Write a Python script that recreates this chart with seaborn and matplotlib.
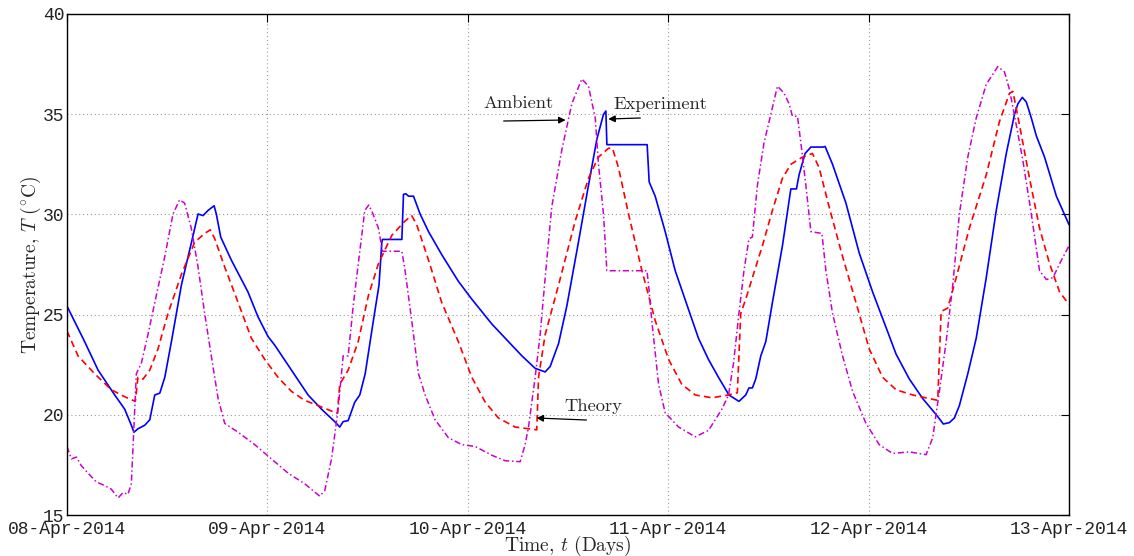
import numpy as np
import pandas as pd
import matplotlib
matplotlib.use("Agg")
import matplotlib.pyplot as plt
import matplotlib.dates as mdates
import seaborn as sns

# time in days after 08-Apr-2014 00:00, temperatures in deg C
exp_day = [0, .088, .155, .238, .288, .321, .334, .354, .388, .413, .438, .463, .488, .521, .571,
           .621, .654, .679, .704, .734, .745, .767, .820, .903, .953, 1.003, 1.037, 1.12, 1.203,
           1.27, 1.336, 1.361, 1.378, 1.403, 1.436, 1.461, 1.488, 1.529, 1.557, 1.571, 1.574,
           1.671, 1.679, 1.691, 1.704, 1.729, 1.762, 1.804, 1.870, 1.953, 2.02, 2.12, 2.203, 2.27,
           2.336, 2.386, 2.411, 2.453, 2.494, 2.552, 2.602, 2.644, 2.677, 2.689, 2.694, 2.895,
           2.905, 2.935, 2.985, 3.035, 3.102, 3.151, 3.201, 3.251, 3.303, 3.353, 3.387, 3.403,
           3.42, 3.437, 3.462, 3.487, 3.52, 3.57, 3.612, 3.64, 3.653, 3.683, 3.712, 3.773, 3.783,
           3.82, 3.887, 3.953, 4.02, 4.087, 4.137, 4.203, 4.27, 4.337, 4.373, 4.403, 4.428, 4.453,
           4.495, 4.537, 4.587, 4.637, 4.687, 4.728, 4.745, 4.767, 4.787, 4.812, 4.837, 4.878,
           4.937, 5.0]
exp_temp = [25.42, 23.65, 22.23, 20.99, 20.28, 19.48, 19.13, 19.3, 19.48, 19.75, 20.99, 21.08,
            21.87, 23.65, 26.48, 28.6, 30.02, 29.94, 30.2, 30.43, 30.02, 28.87, 27.72, 26.13,
            24.89, 23.91, 23.47, 22.23, 20.99, 20.28, 19.66, 19.39, 19.66, 19.71, 20.63, 20.99,
            22.05, 24.71, 26.48, 28.61, 28.75, 28.75, 31.0, 31.03, 30.91, 30.91, 30.02, 29.14,
            27.99, 26.66, 25.77, 24.53, 23.65, 22.94, 22.32, 22.14, 22.41, 23.56, 25.42, 28.61,
            31.44, 33.75, 34.99, 35.16, 33.48, 33.48, 31.62, 30.91, 29.14, 27.19, 25.24, 23.82,
            22.76, 21.87, 20.99, 20.67, 20.99, 21.34, 21.34, 21.79, 22.94, 23.65, 25.6, 28.43,
            31.27, 31.27, 31.97, 33.04, 33.36, 33.36, 33.39, 32.5, 30.56, 28.08, 26.13, 24.36,
            23.03, 21.79, 20.81, 20.01, 19.54, 19.61, 19.84, 20.46, 22.05, 23.82, 26.84, 30.2,
            33.04, 34.99, 35.52, 35.84, 35.61, 34.81, 33.92, 32.86, 30.91, 29.49]

thy_day = [0, .055, .138, .221, .288, .341, .354, .379, .413, .454, .504, .571, .637, .687, .715,
           .737, .787, .854, .92, .987, 1.053, 1.12, 1.186, 1.253, 1.319, 1.349, 1.361, 1.403,
           1.453, 1.504, 1.554, 1.621, 1.687, 1.72, 1.745, 1.804, 1.87, 1.953, 2.02, 2.087, 2.153,
           2.236, 2.344, 2.353, 2.386, 2.453, 2.536, 2.602, 2.652, 2.702, 2.722, 2.752, 2.802,
           2.869, 2.935, 3.002, 3.068, 3.135, 3.218, 3.285, 3.345, 3.362, 3.387, 3.42, 3.47, 3.52,
           3.57, 3.612, 3.67, 3.72, 3.753, 3.803, 3.87, 3.937, 4.003, 4.07, 4.137, 4.22, 4.303,
           4.345, 4.362, 4.395, 4.437, 4.503, 4.587, 4.653, 4.703, 4.72, 4.753, 4.803, 4.853,
           4.903, 4.953, 5.0]
thy_temp = [24.18, 22.94, 22.05, 21.25, 20.9, 20.67, 21.87, 21.78, 22.23, 23.29, 25.06, 27.01,
            28.61, 29.05, 29.23, 28.79, 27.37, 25.6, 23.82, 22.76, 21.87, 21.17, 20.72, 20.46,
            20.19, 20.07, 21.52, 22.23, 23.65, 25.95, 27.54, 28.96, 29.67, 29.94, 29.49, 27.72,
            25.6, 23.65, 21.87, 20.63, 19.84, 19.39, 19.25, 21.87, 24.0, 26.48, 29.67, 31.8,
            32.86, 33.3, 33.3, 32.33, 30.02, 27.19, 24.71, 22.76, 21.52, 20.99, 20.85, 20.96,
            21.1, 25.06, 25.77, 26.84, 28.43, 30.2, 31.8, 32.5, 32.86, 33.04, 32.33, 30.38, 27.9,
            25.6, 23.29, 21.87, 21.25, 20.99, 20.81, 20.72, 25.15, 25.33, 26.84, 29.32, 31.97,
            34.63, 36.04, 36.14, 34.46, 31.8, 29.32, 27.54, 26.13, 25.51]

amb_day = [0, .022, .047, .072, .105, .146, .188, .221, .255, .28, .304, .321, .338, .346, .371,
           .404, .438, .488, .529, .562, .587, .62, .654, .687, .72, .754, .787, .854, .937, 1.02,
           1.103, 1.186, 1.261, 1.286, 1.32, 1.353, 1.378, 1.403, 1.428, 1.453, 1.486, 1.506,
           1.527, 1.554, 1.574, 1.671, 1.687, 1.72, 1.754, 1.787, 1.837, 1.903, 1.97, 2.037, 2.12,
           2.186, 2.261, 2.286, 2.303, 2.336, 2.361, 2.386, 2.419, 2.469, 2.519, 2.569, 2.602,
           2.636, 2.652, 2.677, 2.694, 2.894, 2.902, 2.918, 2.952, 2.985, 3.052, 3.135, 3.201,
           3.268, 3.301, 3.326, 3.353, 3.378, 3.403, 3.42, 3.445, 3.478, 3.512, 3.545, 3.578,
           3.603, 3.62, 3.645, 3.662, 3.687, 3.712, 3.767, 3.787, 3.82, 3.87, 3.92, 3.987, 4.053,
           4.12, 4.203, 4.287, 4.32, 4.353, 4.387, 4.42, 4.453, 4.495, 4.537, 4.587, 4.645, 4.678,
           4.703, 4.737, 4.77, 4.812, 4.853, 4.887, 4.92, 4.953, 5.0]
amb_temp = [18.42, 17.8, 17.89, 17.45, 17.09, 16.65, 16.47, 16.29, 15.85, 16.12, 16.03, 16.56,
            20.28, 22.05, 22.58, 24.0, 25.6, 27.9, 30.02, 30.73, 30.56, 29.32, 27.37, 25.06,
            22.94, 20.81, 19.57, 19.13, 18.51, 17.8, 17.09, 16.56, 15.94, 16.21, 17.8, 20.28,
            22.94, 22.94, 25.42, 27.5, 30.2, 30.47, 30.02, 29.32, 28.16, 28.16, 27.19, 24.71,
            22.05, 20.99, 19.75, 18.86, 18.51, 18.42, 17.98, 17.71, 17.66, 18.51, 19.39, 21.87,
            24.0, 26.84, 30.38, 33.21, 35.52, 36.76, 36.4, 34.81, 32.51, 30.02, 27.19, 27.19,
            26.48, 24.71, 21.52, 20.1, 19.39, 18.9, 19.22, 20.28, 20.99, 22.58, 25.06, 27.19,
            28.78, 28.87, 31.44, 33.57, 34.99, 36.4, 36.05, 35.52, 34.9, 34.9, 33.57, 31.44,
            29.14, 29.05, 27.19, 25.06, 22.94, 21.17, 19.57, 18.51, 18.07, 18.15, 18.01, 18.86,
            21.17, 23.65, 26.48, 30.02, 32.86, 34.81, 36.49, 37.38, 37.11, 36.23, 34.46, 32.68,
            30.02, 27.19, 26.75, 26.84, 27.54, 28.43]

start = pd.Timestamp("2014-04-08")

def frame(days, temps):
    return pd.DataFrame({"time": start + pd.to_timedelta(days, unit="D"), "T": temps})

sns.set_style("white")
plt.rcParams["mathtext.fontset"] = "cm"

fig = plt.figure(figsize=(11.34, 5.56), dpi=100)
ax = fig.add_axes([67 / 1134, 1 - 515 / 556, 1002 / 1134, 501 / 556])

sns.lineplot(data=frame(exp_day, exp_temp), x="time", y="T", ax=ax,
             color="#0000ff", lw=1.2)
sns.lineplot(data=frame(thy_day, thy_temp), x="time", y="T", ax=ax,
             color="#ff0000", lw=1.2, linestyle=(0, (4, 2.5)))
sns.lineplot(data=frame(amb_day, amb_temp), x="time", y="T", ax=ax,
             color="#cc00cc", lw=1.1, linestyle=(0, (4, 1.8, 1, 1.8)))

ax.set_xlim(start, start + pd.Timedelta(days=5))
ax.set_ylim(15, 40)
ax.xaxis.set_major_locator(mdates.DayLocator())
ax.xaxis.set_major_formatter(mdates.DateFormatter("%d-%b-%Y"))
ax.set_yticks([15, 20, 25, 30, 35, 40])

ax.grid(True, color="#9a9a9a", linestyle=(0, (1, 2.5)), linewidth=0.8)
ax.tick_params(direction="in", length=6, width=0.8, top=True, right=True,
               labelsize=13, colors="black")
ax.tick_params(axis="x", pad=4)
ax.tick_params(axis="y", pad=2)
for lab in ax.get_xticklabels() + ax.get_yticklabels():
    lab.set_fontfamily("Liberation Mono")
    lab.set_color("#222222")
for s in ax.spines.values():
    s.set_color("black")
    s.set_linewidth(1.0)

ax.set_xlabel("Time, $t$ (Days)", fontfamily="cmr10", fontsize=14, labelpad=-3)
ax.set_ylabel("Temperature, $T$ ($^{\\circ}$C)", fontfamily="cmr10", fontsize=14, labelpad=0)

arrow = dict(arrowstyle="-|>", color="black", lw=0.9, mutation_scale=10, shrinkA=0, shrinkB=0)

def day(d):
    return mdates.date2num(start + pd.Timedelta(days=d))

ax.annotate("", xy=(day(2.488), 34.71), xytext=(day(2.179), 34.66), arrowprops=arrow)
ax.text(day(2.254), 35.55, "Ambient", fontfamily="cmr10", fontsize=13.3, ha="center", va="center")
ax.annotate("", xy=(day(2.701), 34.76), xytext=(day(2.861), 34.81), arrowprops=arrow)
ax.text(day(2.96), 35.5, "Experiment", fontfamily="cmr10", fontsize=13.3, ha="center", va="center")
ax.annotate("", xy=(day(2.343), 19.84), xytext=(day(2.592), 19.74), arrowprops=arrow)
ax.text(day(2.625), 20.42, "Theory", fontfamily="cmr10", fontsize=13.3, ha="center", va="center")

fig.savefig("out.png", dpi=100)
